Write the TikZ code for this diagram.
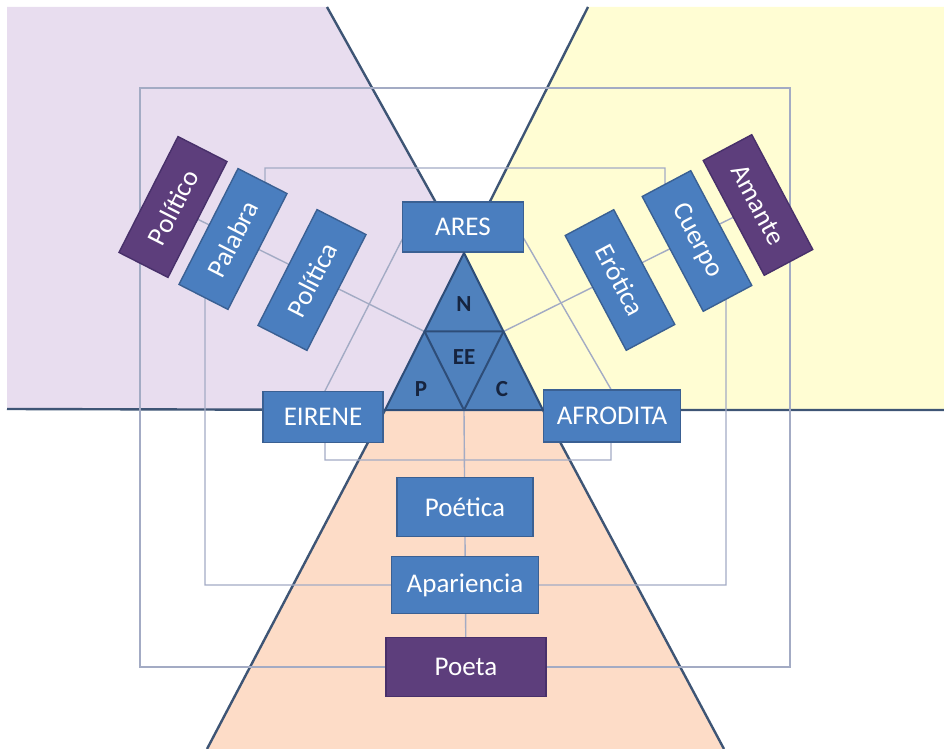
\documentclass[tikz,border=0pt]{standalone}
\usepackage{fontspec}
\setmainfont{Carlito}
\usetikzlibrary{backgrounds,calc}

\definecolor{boxblue}{HTML}{4A7EBF}
\definecolor{boxline}{HTML}{3A6093}
\definecolor{boxpurple}{HTML}{5D3E7C}
\definecolor{purpleline}{HTML}{48306A}
\definecolor{zonelila}{HTML}{E8DDEF}
\definecolor{zoneyellow}{HTML}{FFFDD3}
\definecolor{zonepeach}{HTML}{FDDCC7}
\definecolor{zoneline}{HTML}{3E5575}
\definecolor{linkgray}{HTML}{A3ABC4}
\definecolor{trifill}{HTML}{4F81BD}
\definecolor{triline}{HTML}{2E4D78}
\definecolor{trilabel}{HTML}{16243F}

\tikzset{
  box/.style={draw=boxline, fill=boxblue, line width=0.7pt, text=white,
    font=\fontsize{13.5}{15}\selectfont, inner sep=0pt},
  rolebox/.style={box, fill=boxpurple, draw=purpleline},
  tiltbox/.style={minimum width=65pt, minimum height=27.5pt},
  link/.style={draw=linkgray, line width=0.7pt},
  zone/.style={draw=zoneline, line width=1.2pt},
  tri/.style={draw=triline, line width=1pt, line join=round},
  trilab/.style={text=trilabel, font=\fontsize{11.5}{13}\selectfont\bfseries}
}

\begin{document}
\begin{tikzpicture}[x=0.5pt,y=-0.5pt]
  \useasboundingbox (0,0) rectangle (944,749);

  % triangle corners
  \coordinate (tTop) at (464,253);
  \coordinate (tLeft) at (385,410);
  \coordinate (tRight) at (543,410);
  \coordinate (tL) at ($(tTop)!0.5!(tLeft)$);
  \coordinate (tR) at ($(tTop)!0.5!(tRight)$);
  \coordinate (tB) at ($(tLeft)!0.5!(tRight)$);

  % gods
  \node[box, minimum width=60.5pt, minimum height=25pt] (ares) at (463,227) {ARES};
  \node[box, minimum width=60pt, minimum height=25.5pt] (eirene) at (323,417) {EIRENE};
  \node[box, minimum width=68.5pt, minimum height=26pt] (afro) at (612,416) {AFRODITA};

  % bottom column
  \node[box, minimum width=68pt, minimum height=29.5pt] (poetica) at (465,507) {Poética};
  \node[box, minimum width=73.5pt, minimum height=28.5pt] (apar) at (465,585) {Apariencia};
  \node[rolebox, minimum width=80pt, minimum height=29.5pt] (poeta) at (466,667) {Poeta};

  % left spoke
  \node[rolebox, tiltbox, rotate=63] (politico) at (173,207) {Político};
  \node[box, tiltbox, rotate=63] (palabra) at (233,239) {Palabra};
  \node[box, tiltbox, rotate=63] (politica) at (312,280) {Política};

  % right spoke
  \node[rolebox, tiltbox, rotate=-62] (amante) at (758,205) {Amante};
  \node[box, tiltbox, rotate=-62] (cuerpo) at (697,241) {Cuerpo};
  \node[box, tiltbox, rotate=-62] (erotica) at (620,280) {Erótica};

  % bends of the frames
  \coordinate (oTL) at (140,88);
  \coordinate (oTR) at (790,88);
  \coordinate (mL) at (205,239);
  \coordinate (mR) at (726,241);
  \coordinate (iBL) at (325,460);
  \coordinate (iBR) at (611,460);
  \coordinate (iAL) at (406,232);
  \coordinate (iAR) at (520,232);

  \begin{scope}[on background layer]
    % zones
    \fill[zonelila] (7,7) -- (327,7) -- (tTop) -- (tLeft) -- (7,409) -- cycle;
    \fill[zoneyellow] (588,7) -- (944,7) -- (944,410) -- (tRight) -- (tTop) -- cycle;
    \fill[zonepeach] (tLeft) -- (tRight) -- (724,749) -- (207,749) -- cycle;
    \draw[zone] (327,7) -- (tTop) -- (588,7);
    \draw[zone] (7,409) -- (tLeft) -- (207,749);
    \draw[zone] (944,410) -- (tRight) -- (724,749);

    % frames
    \draw[link] (poeta.west) -| (oTL) -- (oTR) |- (poeta.east);
    \draw[link] (apar.west) -| (mL) -- (palabra.center) -- (265,200) -- (265,168)
      -- (665,168) -- (665,200) -- (cuerpo.center) -- (mR) |- (apar.east);
    \draw[link] (iAL) -- (iBL |- eirene.north) -- (iBL) -- (iBR)
      -- (iBR |- afro.north) -- (iAR);

    % spokes
    \draw[link] (politico.center) -- (tL);
    \draw[link] (amante.center) -- (tR);
    \draw[link] (tB) -- (poeta.center);
  \end{scope}

  % triangle
  \fill[trifill] (tTop) -- (tLeft) -- (tRight) -- cycle;
  \draw[tri] (tTop) -- (tLeft) -- (tRight) -- cycle;
  \draw[tri] (tL) -- (tR) -- (tB) -- cycle;
  \node[trilab] (n) at (464,304) {N};
  \node[trilab] (ee) at (464,357) {EE};
  \node[trilab] (p) at (421,389) {P};
  \node[trilab] (c) at (502,389) {C};
\end{tikzpicture}
\end{document}
